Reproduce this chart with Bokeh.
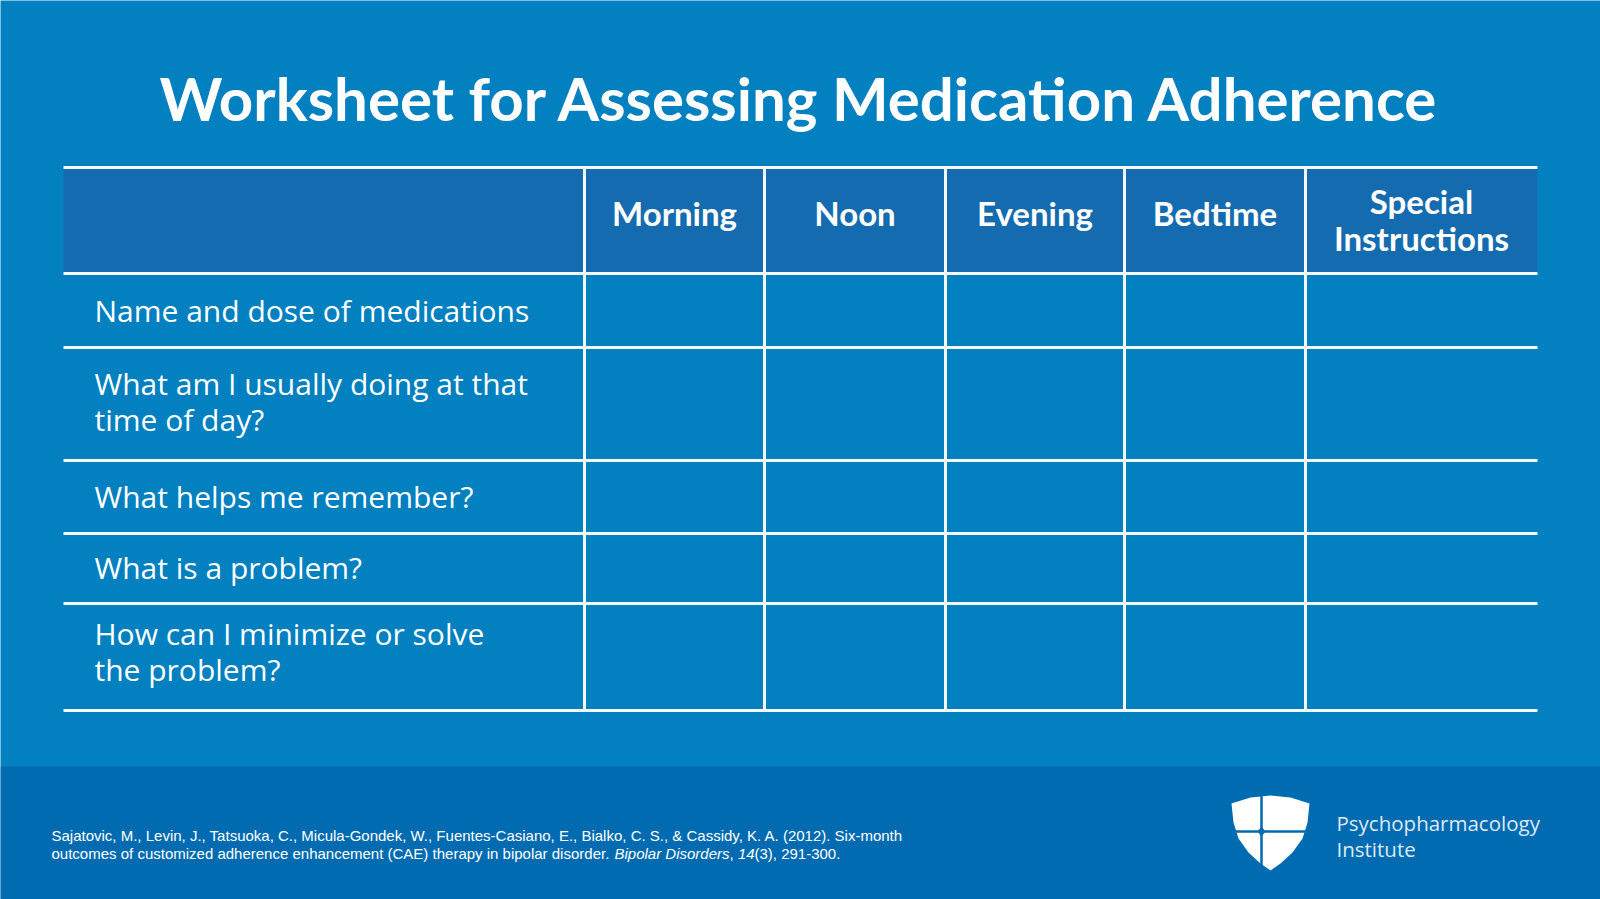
from bokeh.plotting import figure
from bokeh.models import Range1d
from bokeh.core.properties import value
from bokeh.embed import file_html
from bokeh.resources import INLINE

# ---------------- data ----------------
title = "Worksheet for Assessing Medication Adherence"
columns = ["Morning", "Noon", "Evening", "Bedtime", "Special\nInstructions"]
row_labels = [
    "Name and dose of medications",
    "What am I usually doing at that\ntime of day?",
    "What helps me remember?",
    "What is a problem?",
    "How can I minimize or solve\nthe problem?",
]
citation_line1 = ("Sajatovic, M., Levin, J., Tatsuoka, C., Micula-Gondek, W., Fuentes-Casiano, E., "
                  "Bialko, C. S., & Cassidy, K. A. (2012). Six-month")
citation_line2 = [
    ("outcomes of customized adherence enhancement (CAE) therapy in bipolar disorder.", "normal"),
    ("Bipolar Disorders", "italic"),
    (",", "normal"),
    ("14", "italic"),
    ("(3), 291-300.", "normal"),
]
brand_lines = ["Psychopharmacology", "Institute"]

# ---------------- layout (pixel coordinates of the 1600x899 slide) ----------------
W, H = 1600, 899
col_edges = [63, 584, 764, 945, 1124, 1305, 1537]
row_edges = [167, 273, 347, 460, 533, 603, 710]
row_label_y = [310, 401, 496, 567, 651]
footer_top = 766
cit_x2 = [51, 614, 729, 737.5, 754]

BG = "#0280C0"
HEADER = "#156BAF"
FOOTER = "#006BB0"
LINE = "#F4F8FB"

p = figure(width=W, height=H,
           x_range=Range1d(0, W), y_range=Range1d(H, 0),
           output_backend="svg", toolbar_location=None,
           background_fill_color=BG, border_fill_color=BG,
           min_border=0, outline_line_color=None)
p.axis.visible = False
p.grid.visible = False

# footer band
p.quad(left=[0], right=[W], top=[footer_top], bottom=[H], fill_color=FOOTER, line_color=None)

# header band
p.quad(left=[col_edges[0]], right=[col_edges[-1]], top=[row_edges[0]], bottom=[row_edges[1]],
       fill_color=HEADER, line_color=None)

# title
p.text(x=[W / 2], y=[97], text=[title], text_align="center", text_baseline="middle",
       text_font=value("Lato"), text_font_style="bold", text_font_size="60px", text_color="white")

# grid lines
hx0 = [col_edges[0]] * len(row_edges)
hx1 = [col_edges[-1]] * len(row_edges)
p.segment(x0=hx0, x1=hx1, y0=row_edges, y1=row_edges, line_color=LINE, line_width=3)
inner_cols = col_edges[1:-1]
p.segment(x0=inner_cols, x1=inner_cols, y0=[row_edges[0]] * len(inner_cols),
          y1=[row_edges[-1]] * len(inner_cols), line_color=LINE, line_width=3)

# header labels
hx = [(col_edges[i + 1] + col_edges[i + 2]) / 2 for i in range(len(columns))]
hy = [219 if "\n" in c else 212 for c in columns]
p.text(x=hx, y=hy, text=columns, text_align="center", text_baseline="middle",
       text_font=value("Lato"), text_font_style="bold", text_font_size="33px",
       text_color="white", text_line_height=0.93)

# row labels
p.text(x=[94] * len(row_labels), y=row_label_y, text=row_labels, text_align="left",
       text_baseline="middle", text_font=value("Open Sans"), text_font_size="30px",
       text_color="white", text_line_height=0.86)

# citation
p.text(x=[51], y=[835], text=[citation_line1], text_align="left", text_baseline="alphabetic",
       text_font=value("Liberation Sans"), text_font_size="15px", text_color="white")
for (seg, style), xx in zip(citation_line2, cit_x2):
    p.text(x=[xx], y=[853], text=[seg], text_align="left", text_baseline="alphabetic",
           text_font=value("Liberation Sans"), text_font_style=style,
           text_font_size="15px", text_color="white")

# logo shield
shield_x = [1231, 1250, 1270, 1290, 1309, 1307, 1302, 1292, 1280, 1270, 1260, 1248, 1238, 1233]
shield_y = [803, 797, 795, 797, 803, 822, 838, 852, 863, 870, 863, 852, 838, 822]
p.patch(shield_x, shield_y, fill_color="white", line_color=None)
p.segment(x0=[1261, 1228], x1=[1261, 1312], y0=[792, 831], y1=[872, 831],
          line_color=FOOTER, line_width=2.5)
p.patch([1261, 1265, 1261, 1257], [826, 831, 836, 831], fill_color=FOOTER, line_color=None)

# brand text
p.text(x=[1336, 1336], y=[822, 848], text=brand_lines, text_align="left", text_baseline="middle",
       text_font=value("Open Sans"), text_font_size="20.5px", text_color="#DCEAF5")

open("out.html", "w").write(file_html(p, INLINE))
